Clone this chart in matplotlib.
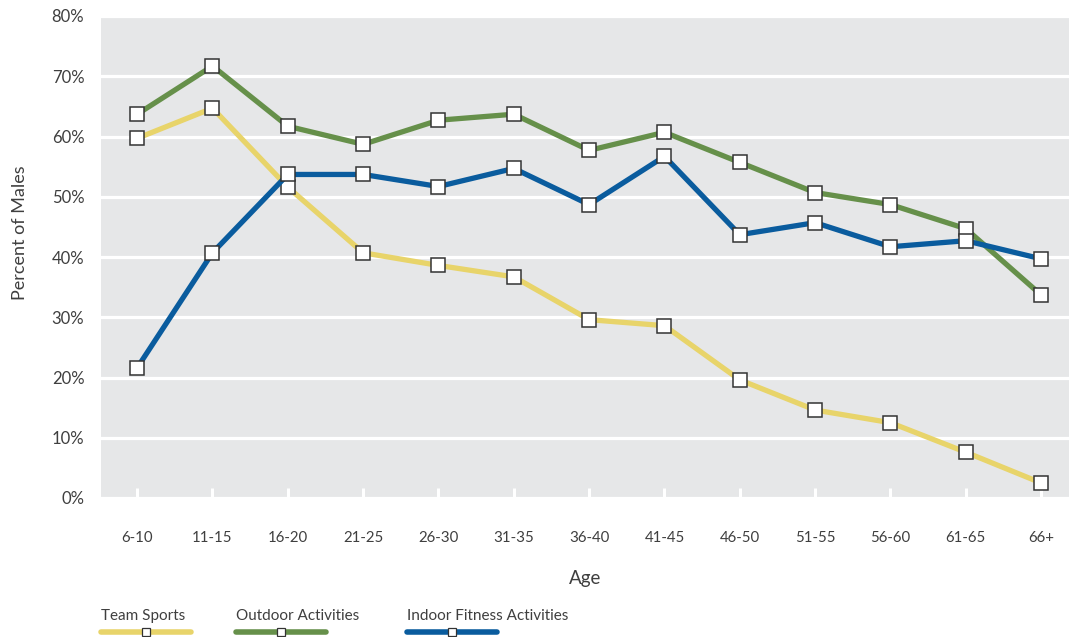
import matplotlib.pyplot as plt
from matplotlib.lines import Line2D

# Categories and values (percent of males)
ages = ['6-10', '11-15', '16-20', '21-25', '26-30', '31-35', '36-40',
        '41-45', '46-50', '51-55', '56-60', '61-65', '66+']
team_sports = [59.7, 64.7, 51.6, 40.7, 38.6, 36.7, 29.6, 28.6, 19.6, 14.6, 12.5, 7.6, 2.5]
outdoor = [63.7, 71.7, 61.7, 58.7, 62.7, 63.7, 57.7, 60.7, 55.7, 50.7, 48.7, 44.7, 33.7]
indoor = [21.6, 40.7, 53.7, 53.7, 51.7, 54.7, 48.7, 56.7, 43.7, 45.7, 41.7, 42.7, 39.7]
yticks = [0, 10, 20, 30, 40, 50, 60, 70, 80]

series = [
    ('Team Sports', team_sports, '#E8D46A'),
    ('Outdoor Activities', outdoor, '#66904A'),
    ('Indoor Fitness Activities', indoor, '#0A5C9E'),
]

plt.rcParams['font.family'] = ['Lato', 'DejaVu Sans']
text_color = '#3f3f3f'

fig = plt.figure(figsize=(10.69, 6.37), dpi=100)
ax = fig.add_axes([101 / 1069, 1 - 498 / 637, (1069 - 101) / 1069, (498 - 16) / 637])
ax.set_facecolor('#E6E7E8')

x = list(range(len(ages)))
marker_style = dict(marker='s', markersize=10, markerfacecolor='white',
                    markeredgecolor='#333333', markeredgewidth=1.1)
for name, vals, color in series:
    ax.plot(x, vals, color=color, linewidth=3.8, zorder=3, **marker_style)

ax.set_xlim(-0.48, 12.37)
ax.set_ylim(0, 80)
ax.set_yticks(yticks)
ax.set_yticklabels([f'{v}%' for v in yticks])
ax.set_xticks(x)
ax.set_xticklabels(ages)
ax.grid(axis='y', color='white', linewidth=2.3)
ax.set_axisbelow(True)
for s in ax.spines.values():
    s.set_visible(False)

ax.tick_params(axis='y', length=0, pad=12, labelsize=12, labelcolor=text_color)
ax.tick_params(axis='x', direction='in', length=7, width=2.2, color='white',
               pad=24, labelsize=10.8, labelcolor=text_color)

ax.set_xlabel('Age', fontsize=13.5, color=text_color, labelpad=18)
ax.set_ylabel('Percent of Males', fontsize=13, color=text_color)
ax.yaxis.set_label_coords(-0.075, 0.55)

# Legend along the bottom
legend_items = [(101, 191), (236, 326), (407, 497)]
for (name, vals, color), (x0, x1) in zip(series, legend_items):
    fig.text(x0 / 1069, 1 - 616 / 637, name, fontsize=11, color=text_color,
             va='center', ha='left')
    fig.add_artist(Line2D([x0 / 1069, x1 / 1069], [1 - 632 / 637] * 2,
                          color=color, linewidth=4, solid_capstyle='round',
                          transform=fig.transFigure))
    fig.add_artist(Line2D([(x0 + x1) / 2 / 1069], [1 - 632 / 637],
                          transform=fig.transFigure, linestyle='none',
                          marker='s', markersize=6, markerfacecolor='white',
                          markeredgecolor='#333333', markeredgewidth=0.9))

fig.savefig('out.png', dpi=100)
